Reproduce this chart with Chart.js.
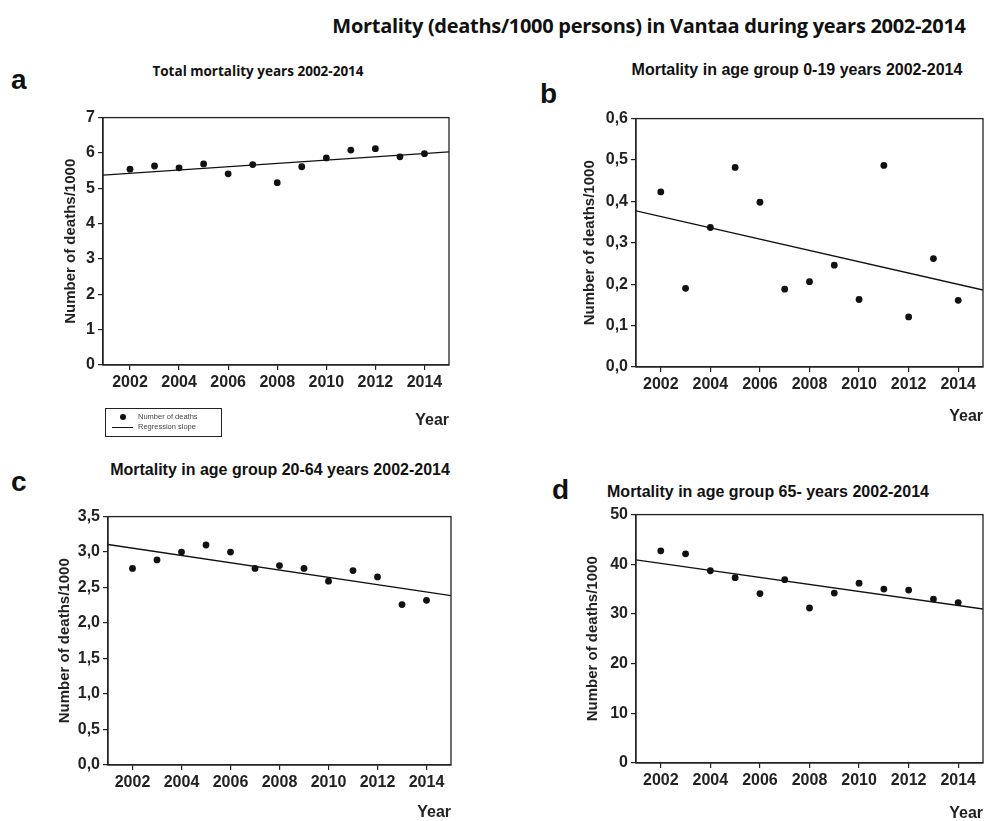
<!DOCTYPE html>
<html>
<head>
<meta charset="utf-8">
<script src="https://cdn.jsdelivr.net/npm/chart.js@4.4.1/dist/chart.umd.min.js"></script>
<style>
  html, body { margin: 0; padding: 0; background: #fff; overflow: hidden; }
  body { width: 992px; height: 821px; position: relative; font-family: "Liberation Sans", Arial, sans-serif; color: #111; }
  .abs { position: absolute; white-space: nowrap; }
  .main-title { left: 649px; top: 12px; transform: translateX(-50%); font-family: "Open Sans", sans-serif; font-weight: bold; font-size: 20px; letter-spacing: -0.3px; }
  .letter { font-weight: bold; font-size: 28px; line-height: 28px; }
  .ptitle { font-weight: bold; font-size: 16px; transform: translateX(-50%); }
  .ptitle.a { font-family: "Open Sans", sans-serif; font-size: 13.5px; }
  canvas { position: absolute; }
  .legend { left: 105px; top: 408px; width: 115px; height: 27px; border: 1.5px solid #222; }
  .legend div { position: absolute; font-size: 7.5px; color: #444; left: 32px; }
  .legend .dot { position: absolute; left: 14px; width: 6px; height: 6px; border-radius: 50%; background: #111; }
  .legend .ln { position: absolute; left: 6px; width: 21px; height: 0; border-top: 1px solid #111; }
</style>
</head>
<body>
<div class="abs main-title">Mortality (deaths/1000 persons) in Vantaa during years 2002-2014</div>

<div class="abs letter" style="left:11px; top:66px;">a</div>
<div class="abs letter" style="left:540px; top:80px;">b</div>
<div class="abs letter" style="left:11px; top:468px;">c</div>
<div class="abs letter" style="left:552px; top:476px;">d</div>

<div class="abs ptitle a" style="left:258px; top:62px;">Total mortality years 2002-2014</div>
<div class="abs ptitle" style="left:797px; top:61px;">Mortality in age group 0-19 years 2002-2014</div>
<div class="abs ptitle" style="left:280px; top:461px;">Mortality in age group 20-64 years 2002-2014</div>
<div class="abs ptitle" style="left:768px; top:483px;">Mortality in age group 65- years 2002-2014</div>

<canvas id="chartA"></canvas>
<canvas id="chartB"></canvas>
<canvas id="chartC"></canvas>
<canvas id="chartD"></canvas>

<div class="abs legend">
  <span class="dot" style="top:5px;"></span><div style="top:3px;">Number of deaths</div>
  <span class="ln" style="top:18px;"></span><div style="top:13px;">Regression slope</div>
</div>

<script>
// years and values
const years = [2002, 2003, 2004, 2005, 2006, 2007, 2008, 2009, 2010, 2011, 2012, 2013, 2014];
const xTicks = [2002, 2004, 2006, 2008, 2010, 2012, 2014];

const totalDeaths = [5.54, 5.63, 5.58, 5.69, 5.41, 5.67, 5.16, 5.61, 5.86, 6.08, 6.12, 5.89, 5.98];
const age0to19 = [0.423, 0.190, 0.337, 0.482, 0.398, 0.188, 0.206, 0.246, 0.163, 0.487, 0.121, 0.262, 0.161];
const age20to64 = [2.77, 2.89, 3.00, 3.10, 3.00, 2.77, 2.81, 2.77, 2.59, 2.74, 2.65, 2.26, 2.32];
const age65plus = [42.7, 42.1, 38.7, 37.3, 34.1, 36.9, 31.2, 34.2, 36.2, 35.0, 34.8, 33.0, 32.3];

// regression line end values at the left and right edge of each plot
const slopeTotal = [5.37, 6.03];
const slope0to19 = [0.377, 0.186];
const slope20to64 = [3.107, 2.387];
const slope65plus = [40.9, 31.0];

const yTicksA = [0, 1, 2, 3, 4, 5, 6, 7];
const yTicksB = [0, 0.1, 0.2, 0.3, 0.4, 0.5, 0.6];
const yTicksC = [0, 0.5, 1.0, 1.5, 2.0, 2.5, 3.0, 3.5];
const yTicksD = [0, 10, 20, 30, 40, 50];

const PAD_TOP = 12, PAD_RIGHT = 8;

// draws the top and right sides of the plot frame
const framePlugin = {
  id: 'frame',
  afterDraw(chart) {
    const a = chart.chartArea, ctx = chart.ctx;
    ctx.save();
    ctx.strokeStyle = '#222';
    ctx.lineWidth = 1.3;
    ctx.strokeRect(a.left, a.top, a.right - a.left, a.bottom - a.top);
    ctx.restore();
  }
};

function makePanel(id, box, values, slope, yTicks, decimals, xMin) {
  const canvas = document.getElementById(id);
  const w = box.yW + (box.r - box.l) + PAD_RIGHT;
  const h = PAD_TOP + (box.b - box.t) + box.xH;
  canvas.width = w;
  canvas.height = h;
  canvas.style.left = (box.l - box.yW) + 'px';
  canvas.style.top = (box.t - PAD_TOP) + 'px';

  const xMax = 2015;
  const tickFont = { family: '"Liberation Sans", Arial, sans-serif', size: 16, weight: 'bold' };

  new Chart(canvas.getContext('2d'), {
    data: {
      datasets: [{
        type: 'scatter',
        label: 'Number of deaths',
        data: years.map((y, i) => ({ x: y, y: values[i] })),
        pointRadius: 3.4,
        pointBackgroundColor: '#111',
        pointBorderColor: '#111',
        pointBorderWidth: 0
      }, {
        type: 'line',
        label: 'Regression slope',
        data: [{ x: xMin, y: slope[0] }, { x: xMax, y: slope[1] }],
        borderColor: '#111',
        borderWidth: 1.3,
        pointRadius: 0,
        fill: false
      }]
    },
    options: {
      responsive: false,
      animation: false,
      layout: { padding: { top: PAD_TOP, right: PAD_RIGHT, left: 0, bottom: 0 } },
      plugins: { legend: { display: false }, tooltip: { enabled: false } },
      scales: {
        x: {
          type: 'linear',
          min: xMin,
          max: xMax,
          afterBuildTicks: s => { s.ticks = xTicks.map(v => ({ value: v })); },
          afterFit: s => { s.height = box.xH; },
          grid: { drawOnChartArea: false, drawTicks: true, tickLength: 5, color: '#222', lineWidth: 1.2 },
          border: { display: true, color: '#222', width: 1.3 },
          ticks: { color: '#222', font: tickFont, padding: 3, maxRotation: 0, callback: v => String(v) },
          title: {
            display: true, text: 'Year', align: 'end', color: '#222',
            font: { family: '"Liberation Sans", Arial, sans-serif', size: 16, weight: 'bold' },
            padding: { top: 0, bottom: 0 }
          }
        },
        y: {
          type: 'linear',
          min: yTicks[0],
          max: yTicks[yTicks.length - 1],
          afterBuildTicks: s => { s.ticks = yTicks.map(v => ({ value: v })); },
          afterFit: s => { s.width = box.yW; },
          grid: { drawOnChartArea: false, drawTicks: true, tickLength: 5, color: '#222', lineWidth: 1.2 },
          border: { display: true, color: '#222', width: 1.3 },
          ticks: {
            color: '#222', font: tickFont, padding: 3,
            callback: v => v.toFixed(decimals).replace('.', ',')
          },
          title: {
            display: true, text: 'Number of deaths/1000', color: '#222',
            font: { family: '"Liberation Sans", Arial, sans-serif', size: 15, weight: 'bold' },
            padding: { top: 4, bottom: 0 }
          }
        }
      }
    },
    plugins: [framePlugin]
  });
}

makePanel('chartA', { l: 103, r: 449, t: 117, b: 365, yW: 45, xH: 65 }, totalDeaths, slopeTotal, yTicksA, 0, 2000.9);
makePanel('chartB', { l: 636, r: 983, t: 118, b: 367, yW: 59, xH: 59 }, age0to19, slope0to19, yTicksB, 1, 2001);
makePanel('chartC', { l: 108, r: 451, t: 516, b: 765, yW: 56, xH: 57 }, age20to64, slope20to64, yTicksC, 1, 2001);
makePanel('chartD', { l: 636, r: 983, t: 514, b: 763, yW: 56, xH: 60 }, age65plus, slope65plus, yTicksD, 0, 2001);
</script>
</body>
</html>
